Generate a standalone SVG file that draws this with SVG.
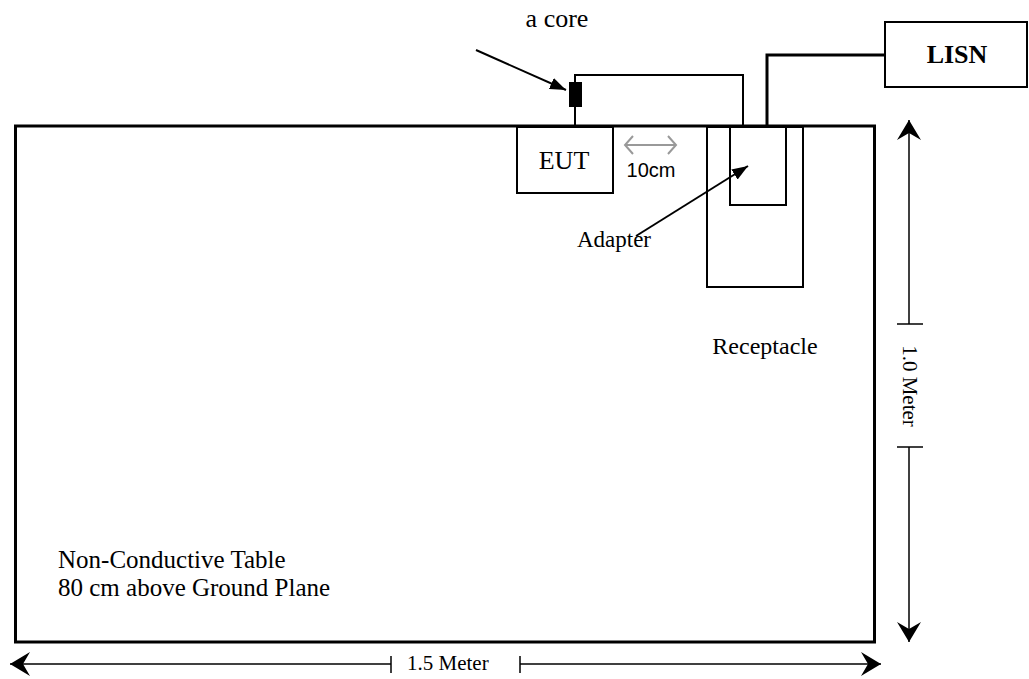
<svg xmlns="http://www.w3.org/2000/svg" width="1029" height="679" viewBox="0 0 1029 679">
<style>
.box{fill:none;stroke:#000;stroke-width:2}
.wire{fill:none;stroke:#000;stroke-width:2}
.dim{fill:none;stroke:#000;stroke-width:1.5}
.t{font-family:"Liberation Serif","Times New Roman",serif;fill:#000}
.s{font-family:"Liberation Sans",Arial,sans-serif;fill:#000}
</style>
<defs>
<marker id="tri2" viewBox="0 0 10 10" refX="10" refY="5" markerWidth="16" markerHeight="12" markerUnits="userSpaceOnUse" orient="auto" preserveAspectRatio="none">
<path d="M0,0 L10,5 L0,10 z" fill="#000"/>
</marker>
<marker id="stealth" viewBox="0 0 20 24" refX="20" refY="12" markerWidth="20" markerHeight="24" markerUnits="userSpaceOnUse" orient="auto-start-reverse">
<path d="M0,0 L20,12 L0,24 L7,12 z" fill="#000"/>
</marker>
</defs>
<g id="table">
<rect x="15.5" y="126" width="859" height="516" fill="none" stroke="#000" stroke-width="3"/>
<text class="t" x="58" y="568" font-size="25">Non-Conductive Table</text>
<text class="t" x="58" y="596" font-size="25">80 cm above Ground Plane</text>
</g>
<g id="eut">
<rect class="box" x="517" y="127" width="96" height="66"/>
<text class="t" x="564" y="169" font-size="26" text-anchor="middle">EUT</text>
</g>
<g id="core">
<rect x="569" y="82" width="13" height="25" fill="#000"/>
<text class="t" x="557" y="27" font-size="26" text-anchor="middle">a core</text>
</g>
<g id="receptacle">
<rect class="box" x="707" y="127" width="96" height="160"/>
<text class="t" x="765" y="354" font-size="24" text-anchor="middle">Receptacle</text>
</g>
<g id="adapter">
<rect class="box" x="730" y="126" width="56" height="79"/>
<text class="t" x="614" y="247" font-size="23" text-anchor="middle">Adapter</text>
</g>
<g id="lisn">
<rect class="box" x="885" y="22" width="142" height="65"/>
<text class="t" x="957" y="63" font-size="26" font-weight="bold" text-anchor="middle">LISN</text>
</g>
<g id="connectors">
<polyline class="wire" points="575,126 575,75 743,75 743,126"/>
<polyline points="767,126 767,55 885,55" fill="none" stroke="#000" stroke-width="3"/>
<line x1="476" y1="50" x2="566" y2="90" stroke="#000" stroke-width="2" marker-end="url(#tri2)"/>
<line x1="636" y1="236" x2="748" y2="166" stroke="#000" stroke-width="2" marker-end="url(#tri2)"/>
<g stroke="#999" stroke-width="2" fill="none">
<line x1="625" y1="145" x2="676" y2="145"/>
<polyline points="633,136 625,145 633,154"/>
<polyline points="668,136 676,145 668,154"/>
</g>
<text class="s" x="651" y="177" font-size="20" text-anchor="middle">10cm</text>
</g>
<g id="dimensions">
<line class="dim" x1="909" y1="120" x2="909" y2="324" marker-start="url(#stealth)"/>
<line class="dim" x1="897" y1="324" x2="923" y2="324"/>
<line class="dim" x1="909" y1="447" x2="909" y2="642" marker-end="url(#stealth)"/>
<line class="dim" x1="897" y1="447" x2="923" y2="447"/>
<text class="t" font-size="21" text-anchor="middle" transform="translate(903,386) rotate(90)">1.0 Meter</text>
<line class="dim" x1="10" y1="664" x2="391" y2="664" marker-start="url(#stealth)"/>
<line class="dim" x1="391" y1="656" x2="391" y2="673"/>
<line class="dim" x1="520" y1="664" x2="881" y2="664" marker-end="url(#stealth)"/>
<line class="dim" x1="520" y1="656" x2="520" y2="673"/>
<text class="t" x="407" y="670" font-size="21">1.5 Meter</text>
</g>
</svg>
